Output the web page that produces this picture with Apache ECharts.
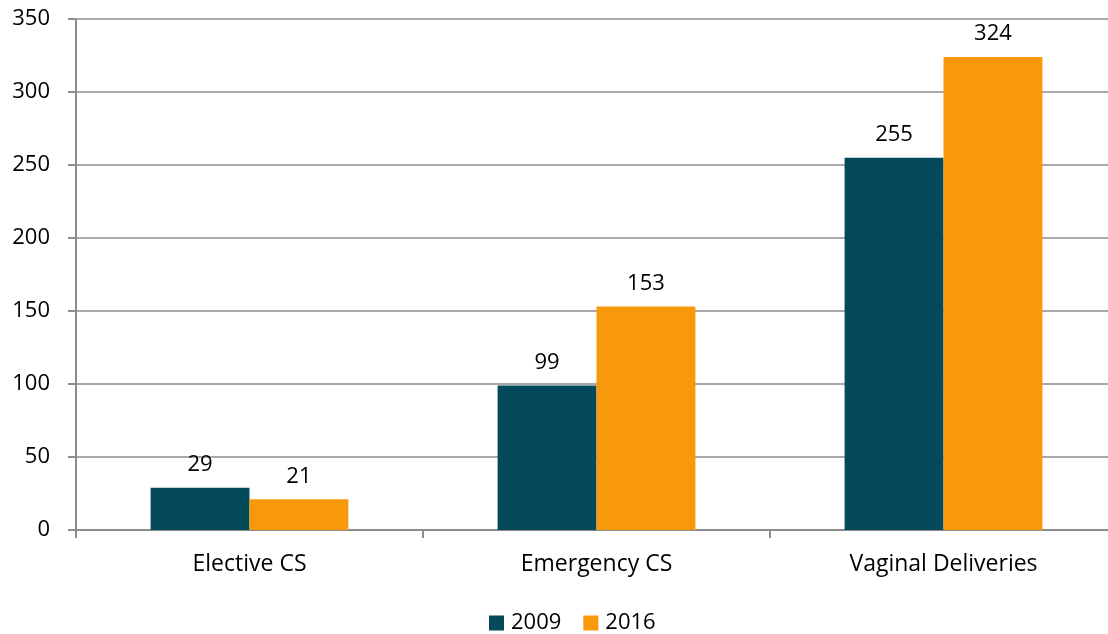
<!DOCTYPE html>
<html>
<head>
<meta charset="utf-8">
<script src="https://cdn.jsdelivr.net/npm/echarts@6/dist/echarts.min.js"></script>
<style>
  html, body { margin: 0; padding: 0; background: #fff; overflow: hidden; }
  #chart { width: 1108px; height: 634px; }
</style>
</head>
<body>
<div id="chart"></div>
<script>
// categories and values
var categories = ['Elective CS', 'Emergency CS', 'Vaginal Deliveries'];
var values2009 = [29, 99, 255];
var values2016 = [21, 153, 324];

var fontFamily = '"Open Sans", "Noto Sans", sans-serif';
var chart = echarts.init(document.getElementById('chart'));

function barSeries(name, data, color) {
    return {
        name: name,
        type: 'bar',
        data: data,
        barGap: '0%',
        barCategoryGap: '43%',
        itemStyle: { color: color },
        label: {
            show: true,
            position: 'top',
            distance: 12,
            color: '#000',
            fontSize: 22,
            fontFamily: fontFamily
        }
    };
}

chart.setOption({
    animation: false,
    // plot runs past the right edge of the picture, as in the reference
    grid: { left: 76, top: 19, width: 1041, height: 511, outerBoundsMode: 'none', containLabel: false },
    legend: {
        top: 607,
        left: 484,
        itemWidth: 15,
        itemHeight: 15,
        itemGap: 22,
        icon: 'rect',
        textStyle: { fontSize: 22, color: '#000', fontFamily: fontFamily, padding: [0, 0, 0, 2] },
        data: ['2009', '2016']
    },
    xAxis: {
        type: 'category',
        data: categories,
        axisLine: { lineStyle: { color: '#8c8c8c', width: 2 } },
        axisTick: { show: true, length: 8, lineStyle: { color: '#8c8c8c', width: 2 } },
        axisLabel: { color: '#000', fontSize: 23, margin: 23, fontFamily: fontFamily }
    },
    yAxis: {
        type: 'value',
        min: 0,
        max: 350,
        interval: 50,
        axisLine: { show: true, lineStyle: { color: '#8c8c8c', width: 2 } },
        axisTick: { show: true, length: 8, lineStyle: { color: '#8c8c8c', width: 2 } },
        splitLine: { lineStyle: { color: '#8c8c8c', width: 1.5 } },
        axisLabel: { color: '#000', fontSize: 22, margin: 26, fontFamily: fontFamily }
    },
    series: [
        barSeries('2009', values2009, '#044a5a'),
        barSeries('2016', values2016, '#f7990b')
    ]
});
</script>
</body>
</html>
